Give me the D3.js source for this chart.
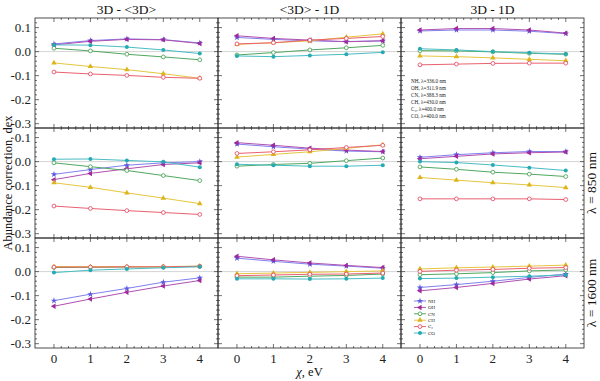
<!DOCTYPE html>
<html><head><meta charset="utf-8">
<script src="https://cdn.jsdelivr.net/npm/d3@7"></script>
<style>body{margin:0;background:#fff}svg{display:block}text{font-family:"Liberation Serif","DejaVu Serif",serif}</style>
</head><body><svg id="c" width="600" height="381"></svg>
<script>
const chi = [0, 1, 2, 3, 4];
const species = ["NH", "OH", "CN", "CH", "C₂", "CO"];
const colTitles = ["3D - <3D>", "<3D> - 1D", "3D - 1D"];
const rowLabels = ["", "λ = 850 nm", "λ = 1600 nm"];
const yTicks = [0.1, 0.0, -0.1, -0.2, -0.3];
const xTicks = [0, 1, 2, 3, 4];
const legendTop = ["NH, λ=336.0 nm", "OH, λ=311.9 nm", "CN, λ=388.3 nm", "CH, λ=430.0 nm", "C₂, λ=400.0 nm", "CO, λ=400.0 nm"];

// series order: NH, OH, CN, CH, C2, CO
const p11 = [[0.032,0.046,0.053,0.050,0.036],[0.028,0.043,0.051,0.049,0.034],[0.014,0.003,-0.011,-0.022,-0.034],[-0.047,-0.062,-0.075,-0.092,-0.111],[-0.085,-0.093,-0.099,-0.107,-0.111],[0.028,0.027,0.019,0.007,-0.008]];
const p12 = [[0.059,0.051,0.045,0.042,0.045],[0.066,0.055,0.048,0.041,0.045],[-0.014,-0.004,0.007,0.016,0.026],[0.030,0.037,0.045,0.060,0.074],[0.032,0.037,0.048,0.055,0.063],[-0.018,-0.021,-0.016,-0.011,-0.003]];
const p13 = [[0.086,0.090,0.090,0.085,0.075],[0.090,0.096,0.096,0.090,0.077],[0.004,0.003,-0.001,-0.007,-0.011],[-0.018,-0.021,-0.026,-0.032,-0.038],[-0.055,-0.052,-0.049,-0.048,-0.048],[0.012,0.007,0.000,-0.005,-0.010]];
const p21 = [[-0.053,-0.033,-0.015,-0.005,0.000],[-0.075,-0.049,-0.030,-0.012,-0.005],[-0.005,-0.021,-0.037,-0.058,-0.079],[-0.088,-0.107,-0.130,-0.152,-0.175],[-0.185,-0.195,-0.204,-0.212,-0.220],[0.010,0.011,0.005,-0.001,-0.023]];
const p22 = [[0.073,0.062,0.052,0.044,0.041],[0.079,0.068,0.056,0.048,0.042],[-0.019,-0.012,-0.007,0.004,0.015],[0.019,0.030,0.041,0.055,0.070],[0.034,0.041,0.049,0.059,0.068],[-0.011,-0.015,-0.019,-0.019,-0.015]];
const p23 = [[0.018,0.029,0.037,0.042,0.042],[0.012,0.022,0.032,0.037,0.040],[-0.022,-0.032,-0.044,-0.052,-0.062],[-0.066,-0.077,-0.088,-0.097,-0.108],[-0.155,-0.155,-0.155,-0.155,-0.158],[0.000,-0.004,-0.014,-0.025,-0.037]];
const p31 = [[-0.121,-0.094,-0.070,-0.044,-0.026],[-0.144,-0.114,-0.086,-0.060,-0.037],[0.017,0.018,0.019,0.020,0.022],[0.021,0.021,0.021,0.021,0.023],[0.019,0.019,0.020,0.020,0.022],[-0.004,0.006,0.011,0.016,0.020]];
const p32 = [[0.056,0.043,0.031,0.023,0.014],[0.064,0.049,0.036,0.026,0.017],[-0.023,-0.023,-0.019,-0.016,-0.010],[-0.009,-0.006,-0.003,0.000,0.003],[-0.017,-0.014,-0.011,-0.010,-0.006],[-0.030,-0.030,-0.031,-0.030,-0.027]];
const p33 = [[-0.066,-0.054,-0.040,-0.024,-0.010],[-0.080,-0.066,-0.049,-0.031,-0.017],[-0.013,-0.009,-0.004,0.003,0.007],[0.011,0.016,0.019,0.023,0.027],[0.001,0.006,0.009,0.014,0.017],[-0.029,-0.027,-0.023,-0.019,-0.014]];
const panels = [[p11, p12, p13], [p21, p22, p23], [p31, p32, p33]];

const colors = ["#5b5be0", "#a02a9c", "#3e9a4a", "#dcb41c", "#e2405a", "#26aab2"];
const lineColors = ["#8080ee", "#b050b0", "#50a860", "#e6c640", "#ea6070", "#48bcc4"];
const shapes = ["star", "tri", "openc", "triup", "openc", "circ"];

const svg = d3.select("#c");
const L = 35, T = 18, PW = 183, PH = 110;
const x = d3.scaleLinear().domain([-0.52, 4.5]);
const y = d3.scaleLinear().domain([-0.318, 0.14]);

function marker(g, shape, cx, cy, col) {
  if (shape === "star") {
    g.append("path").attr("d", d3.symbol(d3.symbolStar, 13)()).attr("transform", `translate(${cx},${cy})`).attr("fill", col);
  } else if (shape === "tri") {
    g.append("path").attr("d", d3.symbol(d3.symbolTriangle, 13)()).attr("transform", `translate(${cx},${cy}) rotate(-90)`).attr("fill", col);
  } else if (shape === "triup") {
    g.append("path").attr("d", d3.symbol(d3.symbolTriangle, 13)()).attr("transform", `translate(${cx},${cy})`).attr("fill", col);
  } else if (shape === "openc") {
    g.append("circle").attr("cx", cx).attr("cy", cy).attr("r", 1.9).attr("fill", "#fff").attr("stroke", col).attr("stroke-width", 0.8);
  } else {
    g.append("circle").attr("cx", cx).attr("cy", cy).attr("r", 2.0).attr("fill", col);
  }
}

for (let r = 0; r < 3; r++) {
  for (let c = 0; c < 3; c++) {
    const ox = L + c * PW, oy = T + r * PH;
    const xs = x.copy().range([ox, ox + PW]);
    const ys = y.copy().range([oy + PH, oy]);
    const g = svg.append("g");
    g.append("line").attr("x1", ox).attr("x2", ox + PW).attr("y1", ys(0)).attr("y2", ys(0)).attr("stroke", "#d4d4d4").attr("stroke-width", 1);
    const tg = g.append("g").attr("stroke", "#333").attr("stroke-width", 0.7);
    for (let v = 0; v <= 4.001; v += 0.2) {
      const major = Math.abs(v - Math.round(v)) < 1e-6;
      const len = major ? 4 : 2;
      tg.append("line").attr("x1", xs(v)).attr("x2", xs(v)).attr("y1", oy + PH).attr("y2", oy + PH - len);
      tg.append("line").attr("x1", xs(v)).attr("x2", xs(v)).attr("y1", oy).attr("y2", oy + len);
    }
    for (let k = -15; k <= 6; k++) {
      const v = k * 0.02;
      if (v < y.domain()[0] || v > y.domain()[1]) continue;
      const major = k % 5 === 0;
      const len = major ? 4 : 2;
      tg.append("line").attr("x1", ox).attr("x2", ox + len).attr("y1", ys(v)).attr("y2", ys(v));
      tg.append("line").attr("x1", ox + PW).attr("x2", ox + PW - len).attr("y1", ys(v)).attr("y2", ys(v));
    }
    const data = panels[r][c];
    data.forEach((vals, si) => {
      const pts = vals.map((v, i) => [xs(chi[i]), ys(v)]);
      g.append("path").attr("d", d3.line()(pts)).attr("fill", "none").attr("stroke", lineColors[si]).attr("stroke-width", 1);
    });
    data.forEach((vals, si) => {
      vals.forEach((v, i) => marker(g, shapes[si], xs(chi[i]), ys(v), colors[si]));
    });
    if (c === 0) {
      yTicks.forEach(t => g.append("text").attr("x", ox - 4).attr("y", ys(t) + 4.5).attr("text-anchor", "end").attr("font-size", 13).attr("fill", "#222").text(t.toFixed(1)));
    }
    if (r === 2) {
      xTicks.forEach(t => g.append("text").attr("x", xs(t)).attr("y", oy + PH + 15).attr("text-anchor", "middle").attr("font-size", 13).attr("fill", "#222").text(t));
    }
    if (r === 0) {
      g.append("text").attr("x", ox + PW / 2).attr("y", 14).attr("text-anchor", "middle").attr("font-size", 13.5).attr("fill", "#111").text(colTitles[c]);
    }
    if (c === 2 && rowLabels[r]) {
      g.append("text").attr("transform", `translate(${ox + PW + 12},${oy + PH / 2}) rotate(-90)`).attr("text-anchor", "middle").attr("font-size", 13.5).attr("fill", "#111").text(rowLabels[r]);
    }
    g.append("rect").attr("x", ox).attr("y", oy).attr("width", PW).attr("height", PH).attr("fill", "none").attr("stroke", "#222").attr("stroke-width", 0.8);
  }
}

legendTop.forEach((t, i) => svg.append("text").attr("x", 411).attr("y", 83 + i * 7).attr("font-size", 5.2).attr("fill", "#222").text(t));

species.forEach((s, i) => {
  const yy = 301 + i * 6.4;
  svg.append("line").attr("x1", 414).attr("x2", 426).attr("y1", yy).attr("y2", yy).attr("stroke", lineColors[i]).attr("stroke-width", 1);
  marker(svg, shapes[i], 420, yy, colors[i]);
  svg.append("text").attr("x", 428).attr("y", yy + 1.8).attr("font-size", 5).attr("fill", "#222").text(s);
});

svg.append("text").attr("transform", `translate(12,${T + 1.5 * PH}) rotate(-90)`).attr("text-anchor", "middle").attr("font-size", 12.5).attr("fill", "#111").text("Abundance correction, dex");
svg.append("text").attr("x", L + 1.5 * PW).attr("y", 376).attr("text-anchor", "middle").attr("font-size", 12.5).attr("fill", "#111").html("<tspan font-style='italic'>χ</tspan>, eV");
</script></body></html>
